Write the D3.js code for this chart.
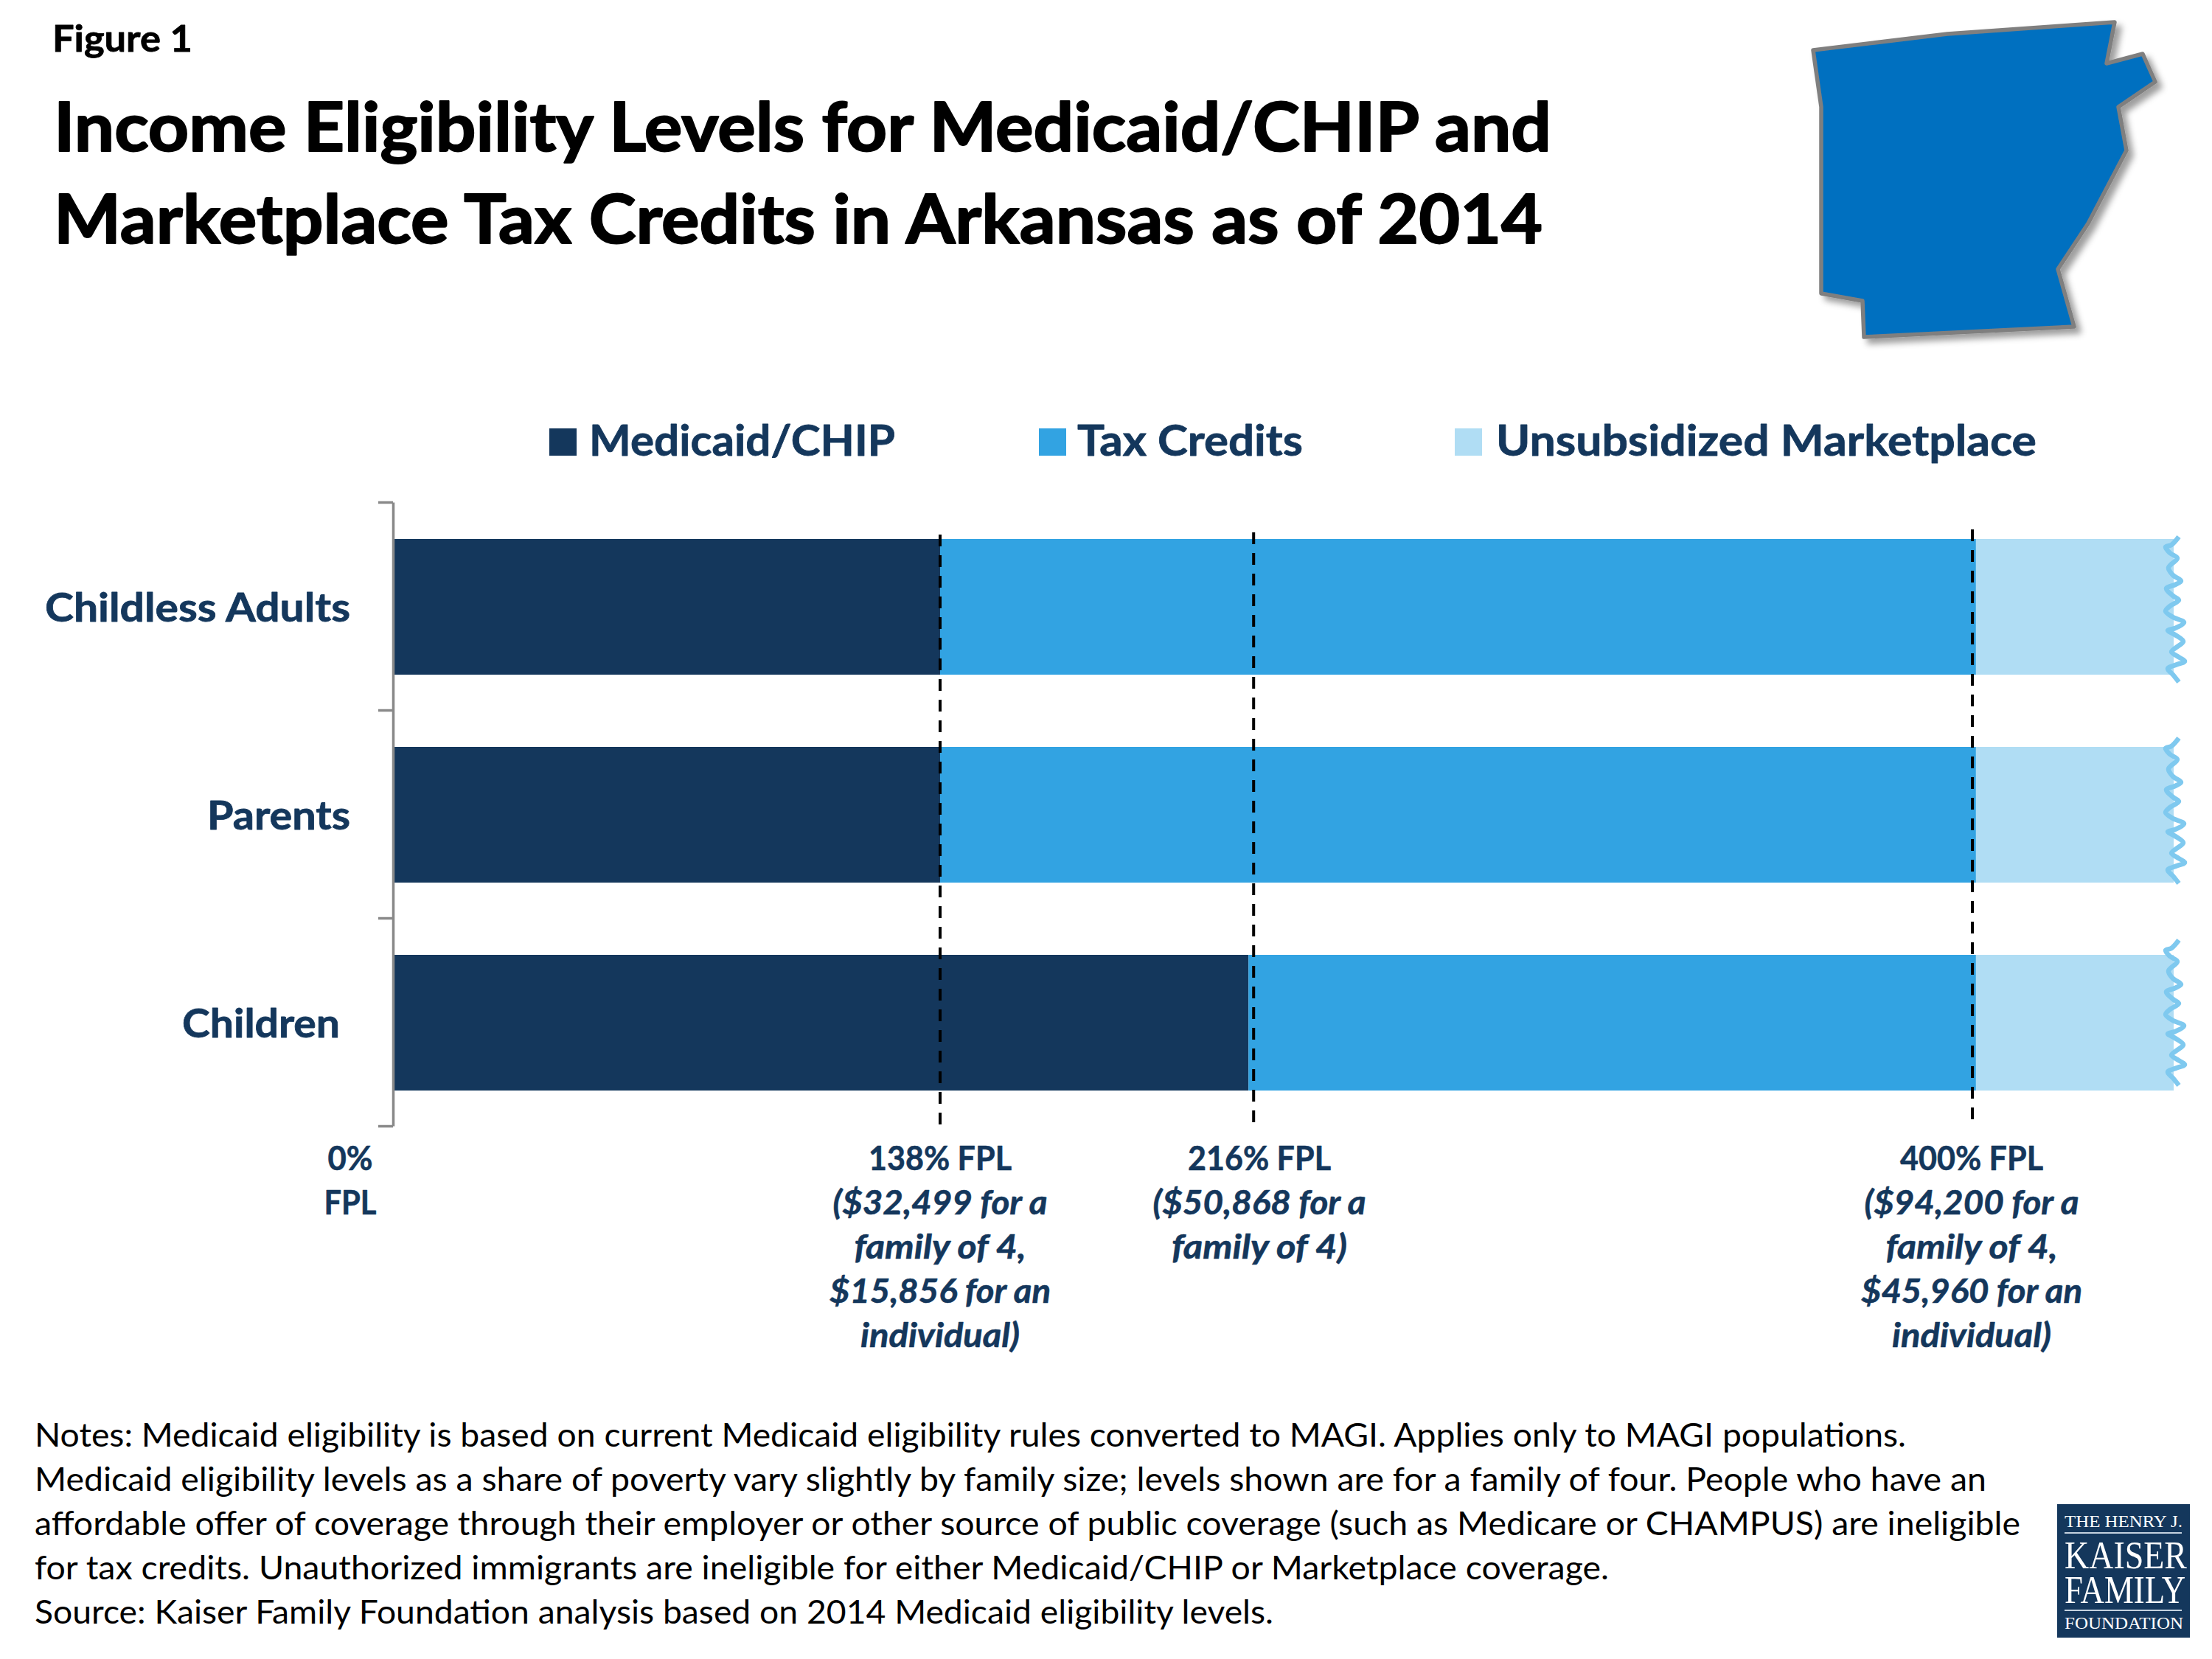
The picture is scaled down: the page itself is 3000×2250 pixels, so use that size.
<!DOCTYPE html>
<html>
<head>
<meta charset="utf-8">
<script src="https://cdnjs.cloudflare.com/ajax/libs/d3/7.8.5/d3.min.js"></script>
<style>
html,body{margin:0;padding:0;background:#fff;}
svg{display:block;}
text{font-family:Lato,"Open Sans",sans-serif;}
</style>
</head>
<body>
<div id="chart"></div>
<script>
// ---------- data ----------
const categories = ["Childless Adults", "Parents", "Children"];
const medicaidChip = [138, 138, 216];
const taxCredits = [262, 262, 184];
const unsubsidized = [50, 50, 50];
const seriesNames = ["Medicaid/CHIP", "Tax Credits", "Unsubsidized Marketplace"];
const seriesColors = ["#14375C", "#32A3E2", "#B0DDF4"];
const markerFpl = [138, 217.3, 399.1];
const markerLabels = [
  ["138% FPL", "($32,499 for a", "family of 4,", "$15,856 for an", "individual)"],
  ["216% FPL", "($50,868 for a", "family of 4)"],
  ["400% FPL", "($94,200 for a", "family of 4,", "$45,960 for an", "individual)"]
];
const zeroLabel = ["0%", "FPL"];
const titleLines = ["Income Eligibility Levels for Medicaid/CHIP and", "Marketplace Tax Credits in Arkansas as of 2014"];
const noteLines = [
  "Notes: Medicaid eligibility is based on current Medicaid eligibility rules converted to MAGI. Applies only to MAGI populations.",
  "Medicaid eligibility levels as a share of poverty vary slightly by family size; levels shown are for a family of four. People who have an",
  "affordable offer of coverage through their employer or other source of public coverage (such as Medicare or CHAMPUS) are ineligible",
  "for tax credits. Unauthorized immigrants are ineligible for either Medicaid/CHIP or Marketplace coverage.",
  "Source: Kaiser Family Foundation analysis based on 2014 Medicaid eligibility levels."
];
const arkansasOutline = [[0,38],[182,16],[409,0],[398,56],[447,43],[464,81],[414,115],[425,174],[373,273],[332,335],[354,413],[69,427],[67,378],[11,368],[11,115]];
const breakSquiggle = [[7,-3],[-3,8],[-11,11],[-5,19],[5,26],[-7,39],[-1,49],[10,57],[2,62],[-10,67],[-1,77],[7,83],[-5,91],[-11,98],[-1,106],[14,113],[2,121],[-8,124],[2,130],[13,139],[5,146],[-3,153],[5,159],[15,166],[5,170],[-8,176],[-1,184],[7,194]];

// ---------- layout ----------
const W = 3000, H = 2250;
const navy = "#14375C";
const svg = d3.select("#chart").append("svg").attr("width", W).attr("height", H).attr("viewBox", `0 0 ${W} ${H}`);
svg.append("rect").attr("width", W).attr("height", H).attr("fill", "#fff");

const x = d3.scaleLinear().domain([0, 450]).range([535, 2948]);
const y = d3.scaleBand().domain(categories).range([682, 1528]).paddingInner(98 / 282).paddingOuter(49 / 282);

function fitText(sel, width) {
  return sel.attr("textLength", width).attr("lengthAdjust", "spacingAndGlyphs");
}
function embolden(sel, colour, amount) {
  return sel.attr("stroke", colour).attr("stroke-width", amount).attr("stroke-linejoin", "round");
}

// ---------- header ----------
embolden(fitText(svg.append("text").attr("x", 71).attr("y", 70).attr("font-size", 50).attr("font-weight", 700).attr("fill", "#000").text("Figure 1"), 190), "#000", 0.8);
const titleW = [2031, 2019], titleY = [205, 330];
titleLines.forEach((t, i) => {
  embolden(fitText(svg.append("text").attr("x", 73).attr("y", titleY[i]).attr("font-size", 92).attr("font-weight", 700).attr("fill", "#000").text(t), titleW[i]), "#000", 2);
});

// ---------- state map ----------
const defs = svg.append("defs");
const shadow = defs.append("filter").attr("id", "mapShadow").attr("x", "-10%").attr("y", "-10%").attr("width", "125%").attr("height", "125%");
shadow.append("feDropShadow").attr("dx", 7).attr("dy", 7).attr("stdDeviation", 4.5).attr("flood-color", "#000").attr("flood-opacity", 0.38);
const mapX = d3.scaleLinear().domain([0, 465]).range([2459, 2924]);
const mapY = d3.scaleLinear().domain([0, 427]).range([30, 457]);
svg.append("path")
  .attr("d", d3.line().x(d => mapX(d[0])).y(d => mapY(d[1])).curve(d3.curveLinearClosed)(arkansasOutline))
  .attr("fill", "#0070C0").attr("stroke", "#7F7F7F").attr("stroke-width", 5.5).attr("stroke-linejoin", "round")
  .attr("filter", "url(#mapShadow)");

// ---------- legend ----------
const legendSwatchX = [745, 1409, 1973], legendTextX = [799, 1461, 2029], legendTextW = [415, 306, 733];
seriesNames.forEach((s, i) => {
  svg.append("rect").attr("x", legendSwatchX[i]).attr("y", 581).attr("width", 37).attr("height", 37).attr("fill", seriesColors[i]);
  embolden(fitText(svg.append("text").attr("x", legendTextX[i]).attr("y", 618).attr("font-size", 58).attr("font-weight", 700).attr("fill", navy).text(s), legendTextW[i]), navy, 0.8);
});

// ---------- bars ----------
const rows = categories.map((c, i) => ({ category: c, medicaid: medicaidChip[i], credits: taxCredits[i], unsub: unsubsidized[i] }));
const stacked = d3.stack().keys(["medicaid", "credits", "unsub"])(rows);
svg.append("g").selectAll("g").data(stacked).join("g").attr("fill", (d, i) => seriesColors[i])
  .selectAll("rect").data(d => d).join("rect")
  .attr("x", d => x(d[0])).attr("width", d => x(d[1]) - x(d[0]))
  .attr("y", d => y(d.data.category)).attr("height", y.bandwidth());

// break marks at the open right end
const squiggleShift = [0, -9, -17];
const squiggle = d3.line().x(d => d[0]).y(d => d[1]).curve(d3.curveCatmullRom.alpha(0.5));
svg.append("g").selectAll("path").data(categories).join("path")
  .attr("transform", (c, i) => `translate(${x(450)},${y(c) + squiggleShift[i]})`)
  .attr("d", squiggle(breakSquiggle))
  .attr("fill", "none").attr("stroke", "#7FC9EF").attr("stroke-width", 6.5);

// ---------- category axis ----------
const axisScale = d3.scaleLinear().domain([0, 3]).range([681, 1527]);
const axis = d3.axisLeft(axisScale).tickValues([0, 1, 2, 3]).tickFormat("").tickSize(20).tickSizeOuter(0);
const axisG = svg.append("g").attr("transform", "translate(533,0)").call(axis);
axisG.selectAll("path,line").attr("stroke", "#898989").attr("stroke-width", 3.5);

const catRight = [475, 475, 461], catWidth = [414, 194, 214];
categories.forEach((c, i) => {
  embolden(fitText(svg.append("text").attr("x", catRight[i]).attr("text-anchor", "end")
    .attr("y", y(c) + 112).attr("font-size", 54).attr("font-weight", 700).attr("fill", navy).text(c), catWidth[i]), navy, 0.8);
});

// ---------- FPL markers ----------
const dashTop = [725, 722, 718], dashBottom = [1525, 1522, 1518];
svg.append("g").selectAll("line").data(markerFpl).join("line")
  .attr("x1", d => x(d)).attr("x2", d => x(d))
  .attr("y1", (d, i) => dashTop[i]).attr("y2", (d, i) => dashBottom[i])
  .attr("stroke", "#000").attr("stroke-width", 4).attr("stroke-dasharray", "16 12");

const lineY = d3.scaleLinear().domain([0, 1]).range([1587, 1647]);
const zeroW = [61, 71];
zeroLabel.forEach((t, i) => {
  embolden(fitText(svg.append("text").attr("x", 475).attr("y", lineY(i)).attr("text-anchor", "middle")
    .attr("font-size", 45).attr("font-weight", 700).attr("fill", navy).text(t), zeroW[i]), navy, 0.6);
});
const labelCenter = [1275, 1708, 2674];
const labelW = [[194, 291, 233, 300, 216], [194, 289, 238], [194, 291, 233, 300, 216]];
markerLabels.forEach((lines, m) => {
  lines.forEach((t, i) => {
    embolden(fitText(svg.append("text").attr("x", labelCenter[m]).attr("y", lineY(i)).attr("text-anchor", "middle")
      .attr("font-size", 45).attr("font-weight", 700).attr("font-style", i ? "italic" : "normal")
      .attr("fill", navy).text(t), labelW[m][i]), navy, 0.6);
  });
});

// ---------- notes ----------
const noteW = [2538, 2647, 2693, 2135, 1680];
noteLines.forEach((t, i) => {
  fitText(svg.append("text").attr("x", 47).attr("y", 1962 + i * 60).attr("font-size", 44).attr("fill", "#000").text(t), noteW[i]);
});

// ---------- logo ----------
const logo = svg.append("g");
logo.append("rect").attr("x", 2790).attr("y", 2040).attr("width", 180).attr("height", 181).attr("fill", navy);
const logoLines = [["THE HENRY J.", 2071, 24, 160], ["KAISER", 2127, 53, 166], ["FAMILY", 2174, 53, 164], ["FOUNDATION", 2209, 24, 161]];
logoLines.forEach(l => {
  logo.append("text").attr("x", 2800).attr("y", l[1]).attr("font-size", l[2]).attr("fill", "#fff")
    .style("font-family", '"Liberation Serif",serif')
    .attr("textLength", l[3]).attr("lengthAdjust", "spacingAndGlyphs").text(l[0]);
});
[2079, 2184].forEach(v => logo.append("line").attr("x1", 2800).attr("x2", 2959).attr("y1", v).attr("y2", v).attr("stroke", "#C5D2DF").attr("stroke-width", 2));
</script>
</body>
</html>
